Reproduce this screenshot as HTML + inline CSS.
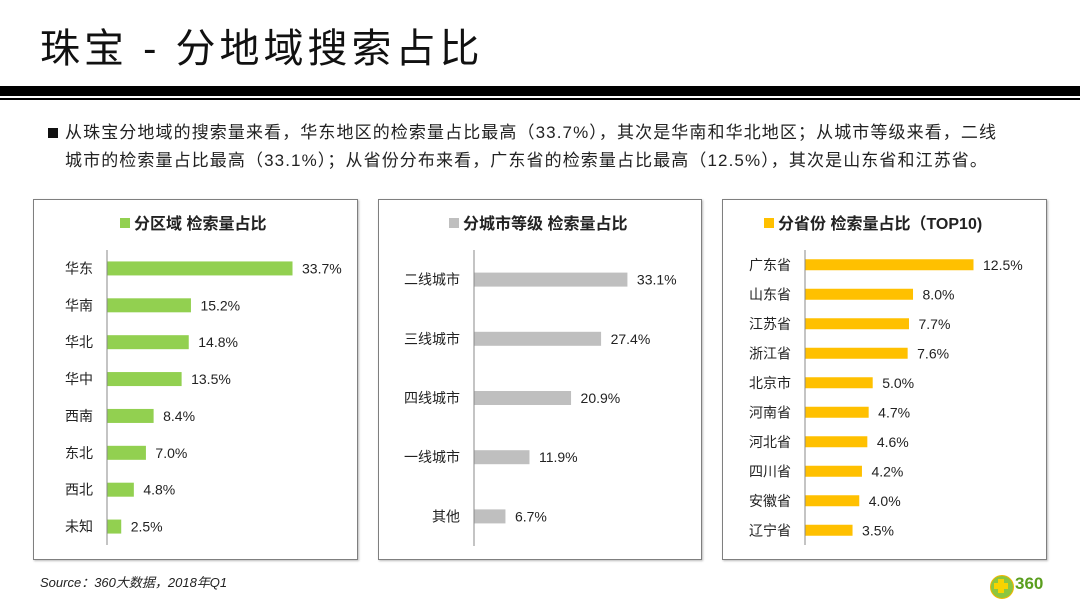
<!DOCTYPE html>
<html><head><meta charset="utf-8"><style>
body{margin:0;width:1080px;height:608px;background:#fff;overflow:hidden;position:relative;font-family:"Liberation Sans","Noto Sans CJK SC",sans-serif}
.abs{position:absolute}
.panel{position:absolute;top:199px;height:361px;border:1.5px solid #7f7f7f;box-sizing:border-box;box-shadow:1px 1px 2px #bbb}
</style></head><body>
<div class="abs" style="left:40px;top:24px;font-size:40px;line-height:50px;color:#111;letter-spacing:4px;font-family:'Liberation Sans','Noto Sans CJK SC',sans-serif">珠宝 - 分地域搜索占比</div>
<div class="abs" style="left:0;top:86px;width:1080px;height:10px;background:#000"></div>
<div class="abs" style="left:0;top:98px;width:1080px;height:2px;background:#000"></div>
<div class="abs" style="left:48px;top:128px;width:10px;height:10px;background:#111"></div>
<div class="abs" style="left:65px;top:119px;width:1000px;font-size:17px;line-height:28px;letter-spacing:1.1px;color:#222;white-space:nowrap">从珠宝分地域的搜索量来看，华东地区的检索量占比最高（33.7%），其次是华南和华北地区；从城市等级来看，二线<br>城市的检索量占比最高（33.1%）；从省份分布来看，广东省的检索量占比最高（12.5%），其次是山东省和江苏省。</div>

<div class="panel" style="left:33px;width:325px"></div>
<div class="panel" style="left:378px;width:324px"></div>
<div class="panel" style="left:722px;width:325px"></div>

<svg class="abs" style="left:0;top:0" width="1080" height="608" id="chart"></svg>

<div class="abs" style="left:40px;top:572px;font-size:13px;font-style:italic;color:#222">Source：360大数据，2018年Q1</div>
<div class="abs" style="left:990px;top:575px;width:62px;height:24px">
<div style="position:absolute;left:0;top:0;width:22px;height:22px;border-radius:50%;background:#8dc63f;border:1px solid #f2b800"></div>
<div style="position:absolute;left:8px;top:4px;width:6px;height:14px;background:#f7d300"></div>
<div style="position:absolute;left:4px;top:8px;width:14px;height:6px;background:#f7d300"></div>
<div style="position:absolute;left:25px;top:0;font-size:17px;font-weight:bold;color:#5a9e1e;line-height:18px">360</div>
</div>

<script>
const regionCats=["华东","华南","华北","华中","西南","东北","西北","未知"];
const regionVals=[33.7,15.2,14.8,13.5,8.4,7.0,4.8,2.5];
const tierCats=["二线城市","三线城市","四线城市","一线城市","其他"];
const tierVals=[33.1,27.4,20.9,11.9,6.7];
const provCats=["广东省","山东省","江苏省","浙江省","北京市","河南省","河北省","四川省","安徽省","辽宁省"];
const provVals=[12.5,8.0,7.7,7.6,5.0,4.7,4.6,4.2,4.0,3.5];

const svg=document.getElementById('chart');
const NS='http://www.w3.org/2000/svg';
function mk(tag,attrs){const e=document.createElementNS(NS,tag);for(const k in attrs)e.setAttribute(k,attrs[k]);svg.appendChild(e);return e;}

function chart(o){
  const sq=mk('rect',{x:o.tx,y:o.ty-11,width:10,height:10,fill:o.color});
  
  
  const t=mk('text',{x:o.tx+14,y:o.ty,'font-size':16,'font-weight':'bold',fill:'#222'});
  t.textContent=o.title;
  
  
  const ax=mk('line',{x1:o.ax,x2:o.ax,y1:o.y0,y2:o.y1,stroke:'#888','stroke-width':1});
  
  
  const n=o.cats.length, step=(o.y1-o.y0)/n;
  const xs=v=>v*o.scale;
  o.cats.forEach((c,i)=>{
    const cy=o.y0+step*(i+0.5);
    const w=xs(o.vals[i]);
    const b=mk('rect',{x:o.ax+0.5,y:cy-o.bh/2,width:w,height:o.bh,fill:o.color});
    
    
    const l=mk('text',{x:o.ax-14,y:cy+5,'font-size':14,'text-anchor':'end',fill:'#222'});
    l.textContent=c;
    
    
    const v=mk('text',{x:o.ax+w+10,y:cy+5,'font-size':14,fill:'#222'});
    v.textContent=o.vals[i].toFixed(1)+'%';
    
    
  });
}
chart({key:'region',cats:regionCats,vals:regionVals,color:'#92d050',tx:120,ty:229,title:'分区域 检索量占比',ax:107,y0:250,y1:545,scale:5.49,bh:14});
chart({key:'tier',cats:tierCats,vals:tierVals,color:'#bfbfbf',tx:449,ty:229,title:'分城市等级 检索量占比',ax:474,y0:250,y1:546,scale:4.62,bh:14});
chart({key:'province',cats:provCats,vals:provVals,color:'#ffc000',tx:764,ty:229,title:'分省份 检索量占比（TOP10)',ax:805,y0:250,y1:545,scale:13.44,bh:11});
</script>
</body></html>
